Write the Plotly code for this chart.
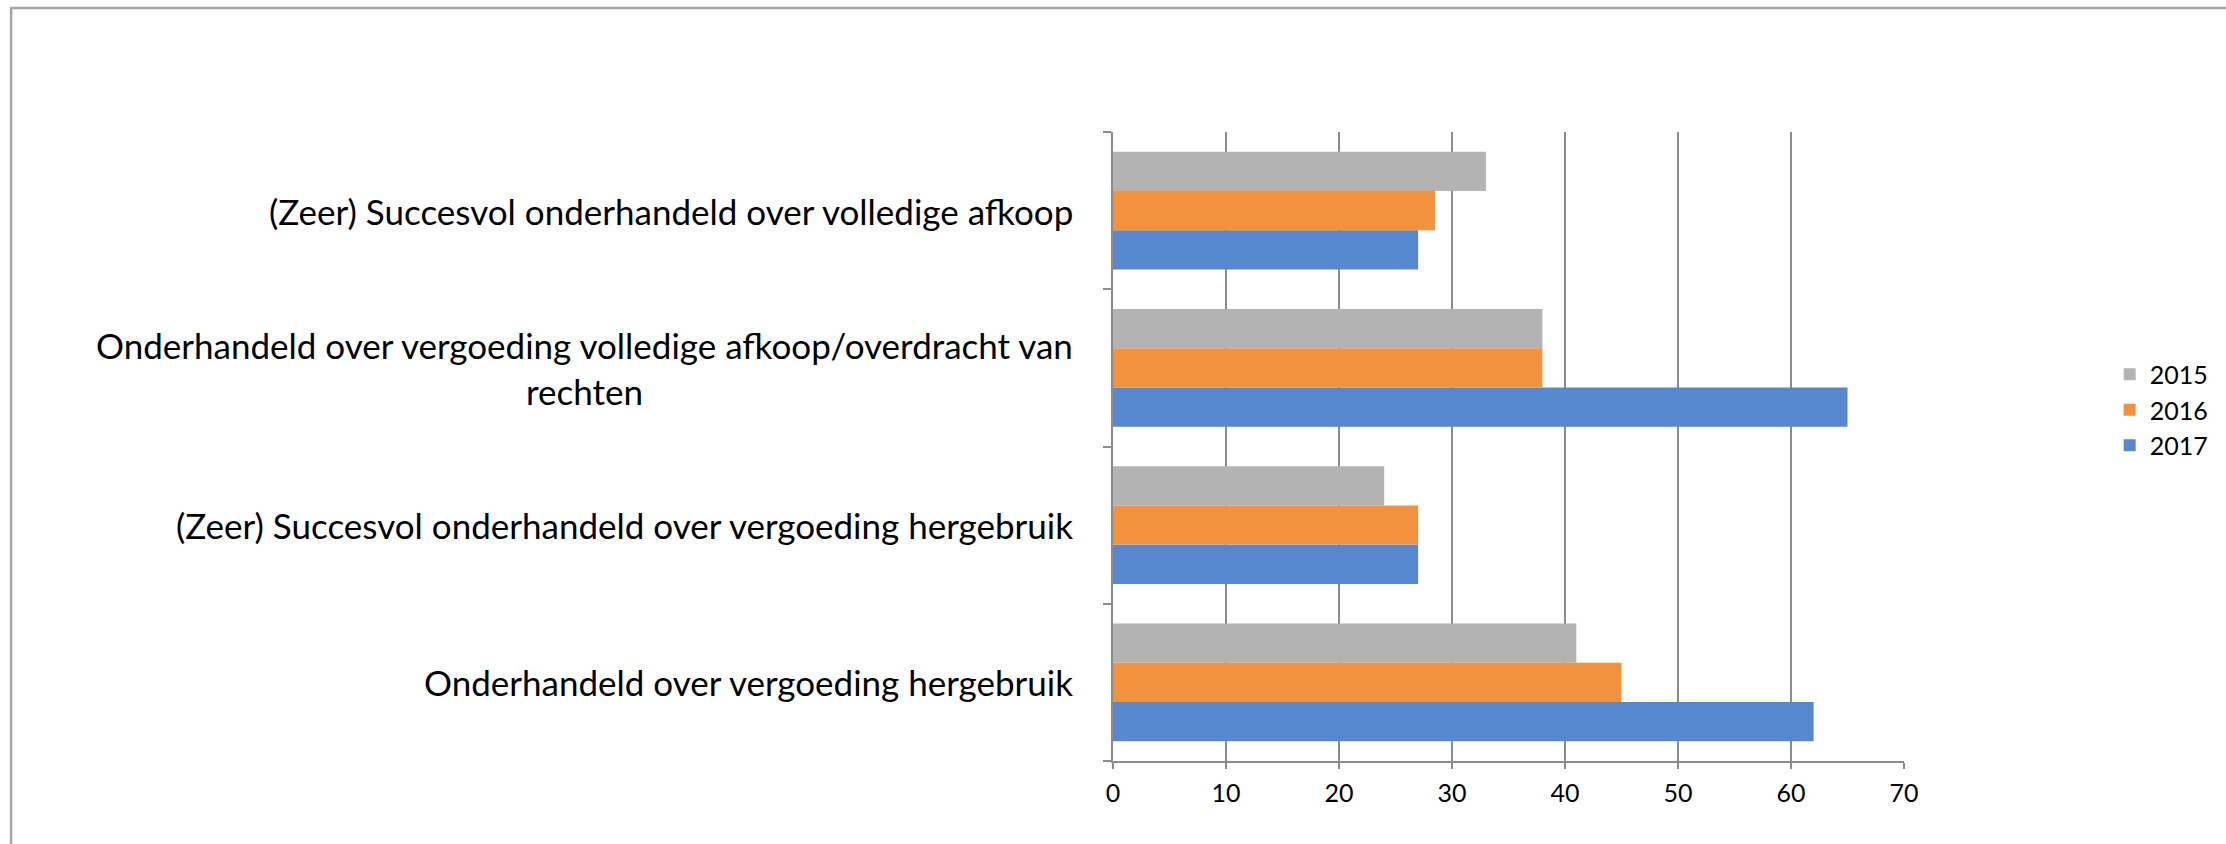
import plotly.graph_objects as go

# categories, bottom to top (plotly puts the first category at the bottom)
categories = [
    "Onderhandeld over vergoeding hergebruik",
    "(Zeer) Succesvol onderhandeld over vergoeding hergebruik",
    "Onderhandeld over vergoeding volledige afkoop/overdracht van rechten",
    "(Zeer) Succesvol onderhandeld over volledige afkoop",
]
category_labels = [
    "Onderhandeld over vergoeding hergebruik",
    "(Zeer) Succesvol onderhandeld over vergoeding hergebruik",
    "Onderhandeld over vergoeding volledige afkoop/overdracht van<br>rechten",
    "(Zeer) Succesvol onderhandeld over volledige afkoop",
]
years = ["2015", "2016", "2017"]
values_2015 = [41, 24, 38, 33]
values_2016 = [45, 27, 38, 28.5]
values_2017 = [62, 27, 65, 27]

colors = {"2015": "#b3b3b3", "2016": "#f2913e", "2017": "#5588cf"}
series = {"2015": values_2015, "2016": values_2016, "2017": values_2017}

FONT = "Lato"

fig = go.Figure()

# 2017 first so it ends up at the bottom of each group
for year in reversed(years):
    fig.add_trace(go.Bar(
        y=categories,
        x=series[year],
        orientation="h",
        name=year,
        legendrank=years.index(year) + 1,
        marker=dict(color=colors[year], line=dict(width=0)),
    ))

for cat, label in zip(categories, category_labels):
    fig.add_annotation(
        x=0, xref="paper", xshift=-38, xanchor="right",
        y=cat, yref="y",
        text=label, showarrow=False, align="center",
        font=dict(family=FONT, size=35, color="#000000"),
    )

# chart frame (open to the right and bottom as in the source)
fig.add_shape(
    type="rect", xref="paper", yref="paper",
    x0=-1.393, x1=2.0, y0=-0.3, y1=1.197,
    line=dict(color="#a6a6a6", width=2.5),
    layer="below",
)

fig.update_xaxes(
    range=[0, 70], dtick=10,
    showgrid=True, gridcolor="#8c8c8c", gridwidth=1.5,
    showline=True, linecolor="#8c8c8c", linewidth=2,
    ticks="outside", ticklen=6, tickcolor="#8c8c8c", tickwidth=2,
    ticklabelstandoff=3,
    tickfont=dict(family=FONT, size=25, color="#000000"),
    zeroline=False,
)
fig.update_yaxes(
    categoryorder="array", categoryarray=categories,
    showticklabels=False, showgrid=False,
    showline=True, linecolor="#8c8c8c", linewidth=2,
    ticks="outside", tickson="boundaries", ticklen=8,
    tickcolor="#8c8c8c", tickwidth=2,
)

fig.update_layout(
    width=2226, height=844,
    margin=dict(l=1113, r=316, t=132, b=83),
    barmode="group", bargap=0.25, bargroupgap=0,
    plot_bgcolor="white", paper_bgcolor="white",
    font=dict(family=FONT, color="#000000"),
    legend=dict(
        x=1.26, xanchor="left", y=0.558, yanchor="middle",
        traceorder="normal",
        font=dict(family=FONT, size=25, color="#000000"),
        itemwidth=30,
    ),
)

fig.write_html(
    "out.html",
    config={"displayModeBar": False},
    post_script="document.body.style.margin='0';",
)
